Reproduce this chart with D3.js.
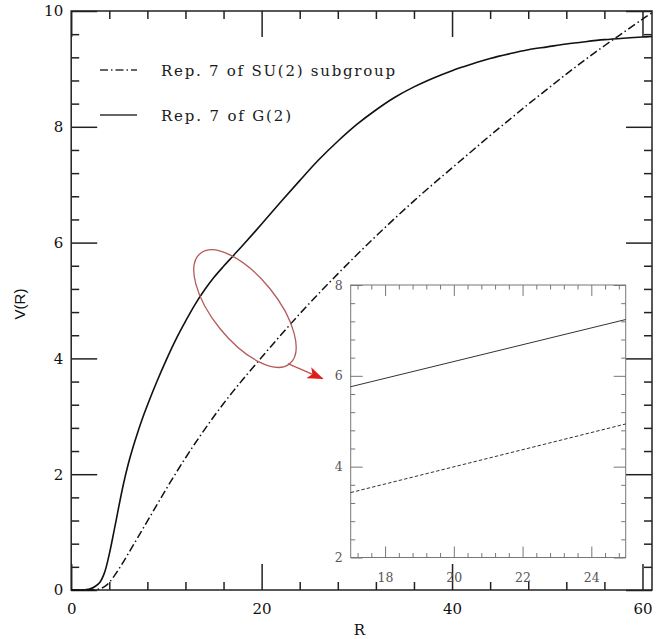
<!DOCTYPE html>
<html><head><meta charset="utf-8">
<script src="https://cdn.jsdelivr.net/npm/d3@7"></script>
<style>body{margin:0;background:#fff}svg{display:block}</style>
</head><body>
<svg id="c" width="669" height="639"></svg>
<script>
// ---- data ----
const suR = [0, 2, 2.5, 3, 3.5, 4, 5, 6, 7, 8, 9, 10, 11, 12, 13, 14, 15, 16, 17, 18, 20, 22, 24, 26, 28, 30, 32, 34, 36, 38, 40, 42, 44, 46, 48, 50, 52, 54, 56, 58, 60, 61];
const suV = [0, 0, 0.005, 0.02, 0.06, 0.13, 0.36, 0.63, 0.91, 1.19, 1.47, 1.75, 2.02, 2.28, 2.53, 2.77, 3.0, 3.22, 3.43, 3.63, 4.02, 4.4, 4.77, 5.12, 5.46, 5.79, 6.11, 6.42, 6.72, 7.01, 7.29, 7.57, 7.85, 8.12, 8.39, 8.65, 8.91, 9.16, 9.4, 9.63, 9.86, 9.97];
const g2R = [0, 1, 1.5, 2, 2.5, 3, 3.5, 4, 4.5, 5, 5.5, 6, 6.5, 7, 7.5, 8, 9, 10, 11, 12, 13, 14, 15, 16, 17, 18, 20, 22, 24, 26, 28, 30, 32, 34, 36, 38, 40, 42, 44, 46, 48, 50, 52, 54, 56, 58, 60, 61];
const g2V = [0, 0, 0.005, 0.02, 0.06, 0.13, 0.3, 0.62, 1.02, 1.44, 1.84, 2.18, 2.47, 2.73, 2.97, 3.19, 3.6, 3.98, 4.33, 4.64, 4.93, 5.18, 5.40, 5.59, 5.77, 5.95, 6.32, 6.7, 7.07, 7.43, 7.75, 8.04, 8.29, 8.51, 8.69, 8.84, 8.97, 9.08, 9.18, 9.26, 9.33, 9.38, 9.43, 9.47, 9.505, 9.53, 9.55, 9.56];

const insetR = [17, 25];
const insetSuV = [3.43, 4.94];
const insetG2V = [5.76, 7.24];

const xMajor = [0, 20, 40, 60];
const xMinor = [4, 8, 12, 16, 24, 28, 32, 36, 44, 48, 52, 56];
const yMajor = [0, 2, 4, 6, 8, 10];
const yMinor = [0.4, 0.8, 1.2, 1.6, 2.4, 2.8, 3.2, 3.6, 4.4, 4.8, 5.2, 5.6, 6.4, 6.8, 7.2, 7.6, 8.4, 8.8, 9.2, 9.6];
const ixMajor = [18, 20, 22, 24];
const ixMinor = [17.2, 17.6, 18.4, 18.8, 19.2, 19.6, 20.4, 20.8, 21.2, 21.6, 22.4, 22.8, 23.2, 23.6, 24.4, 24.8];
const iyMajor = [2, 4, 6, 8];
const iyMinor = [2.4, 2.8, 3.2, 3.6, 4.4, 4.8, 5.2, 5.6, 6.4, 6.8, 7.2, 7.6];

const legendLabels = ["Rep. 7 of SU(2) subgroup", "Rep. 7 of G(2)"];
const xTitle = "R", yTitle = "V(R)";
// annotation: ellipse centre and arrow ends in data units
const ellipseC = [18.25, 4.86];
const arrowFrom = [22.76, 3.91], arrowTo = [26.4, 3.65];

// ---- layout ----
const svg = d3.select("#c");
const L = 71.2, R = 652, T = 11, B = 590;
const x = d3.scaleLinear().domain([0, 61]).range([L, R]);
const y = d3.scaleLinear().domain([0, 10]).range([B, T]);
const serif = "'DejaVu Serif', 'Liberation Serif', serif";

function ticks(g, axis, vals, size, color, w) {
  g.call(axis.tickValues(vals).tickSize(-size).tickFormat(""));
  g.select(".domain").remove();
  g.selectAll(".tick line").attr("stroke", color).attr("stroke-width", w);
}
function frameAxes(xs, ys, l, r, t, b, major, minor, xMaj, xMin, yMaj, yMin, color, w) {
  const grp = svg.append("g");
  [[d3.axisBottom, b], [d3.axisTop, t]].forEach(([f, pos]) => {
    ticks(grp.append("g").attr("transform", `translate(0,${pos})`), f(xs), xMaj, major[0], color, w);
    ticks(grp.append("g").attr("transform", `translate(0,${pos})`), f(xs), xMin, minor, color, w);
  });
  [[d3.axisLeft, l], [d3.axisRight, r]].forEach(([f, pos]) => {
    ticks(grp.append("g").attr("transform", `translate(${pos},0)`), f(ys), yMaj, major[1], color, w);
    ticks(grp.append("g").attr("transform", `translate(${pos},0)`), f(ys), yMin, minor, color, w);
  });
  grp.append("rect").attr("x", l).attr("y", t).attr("width", r - l).attr("height", b - t)
    .attr("fill", "none").attr("stroke", color).attr("stroke-width", w);
}

// main frame & ticks
frameAxes(x, y, L, R, T, B, [26, 26], 8, xMajor, xMinor, yMajor, yMinor, "#222", 1.5);

// main tick labels
const bx = svg.append("g").attr("transform", `translate(0,${B})`)
  .call(d3.axisBottom(x).tickValues(xMajor).tickSize(0).tickPadding(13).tickFormat(d3.format("d")));
bx.select(".domain").remove();
bx.selectAll("text").attr("font-family", serif).attr("font-size", 15).attr("fill", "#111");
const ly = svg.append("g").attr("transform", `translate(${L},0)`)
  .call(d3.axisLeft(y).tickValues(yMajor).tickSize(0).tickPadding(8).tickFormat(d3.format("d")));
ly.select(".domain").remove();
ly.selectAll("text").attr("font-family", serif).attr("font-size", 15).attr("fill", "#111");

// titles
svg.append("text").attr("x", 359.5).attr("y", 635).attr("text-anchor", "middle")
  .attr("font-family", serif).attr("font-size", 15).attr("fill", "#111").text(xTitle);
svg.append("text").attr("transform", "translate(25,304) rotate(-90)").attr("text-anchor", "middle")
  .attr("font-family", "'Liberation Sans', Arial, sans-serif").attr("font-size", 15).attr("fill", "#111").text(yTitle);

// curves
const line = d3.line().x(d => x(d[0])).y(d => y(d[1])).curve(d3.curveCatmullRom.alpha(0.5));
svg.append("path").datum(suR.map((r, i) => [r, suV[i]])).attr("d", line)
  .attr("fill", "none").attr("stroke", "#111").attr("stroke-width", 1.5).attr("stroke-dasharray", "8,3,1.5,3");
svg.append("path").datum(g2R.map((r, i) => [r, g2V[i]])).attr("d", line)
  .attr("fill", "none").attr("stroke", "#111").attr("stroke-width", 1.6);

// legend
const legY = [70, 115];
legendLabels.forEach((t, i) => {
  svg.append("line").attr("x1", 100).attr("x2", 137).attr("y1", legY[i]).attr("y2", legY[i])
    .attr("stroke", "#333").attr("stroke-width", 1.5).attr("stroke-dasharray", i === 0 ? "8,3,1.5,3" : null);
  svg.append("text").attr("x", 161).attr("y", legY[i] + 6).attr("font-family", serif).attr("font-size", 15)
    .attr("fill", "#1a1a1a").attr("textLength", i === 0 ? 234 : 130).attr("lengthAdjust", "spacing").text(t);
});

// inset
const iL = 350.7, iR = 625.7, iT = 285, iB = 557.5;
const xi = d3.scaleLinear().domain([17, 25]).range([iL, iR]);
const yi = d3.scaleLinear().domain([2, 8]).range([iB, iT]);
svg.append("rect").attr("x", iL).attr("y", iT).attr("width", iR - iL).attr("height", iB - iT).attr("fill", "#fff");
frameAxes(xi, yi, iL, iR, iT, iB, [11, 12], 4.5, ixMajor, ixMinor, iyMajor, iyMinor, "#777", 1);
const ibx = svg.append("g").attr("transform", `translate(0,${iB})`)
  .call(d3.axisBottom(xi).tickValues(ixMajor).tickSize(0).tickPadding(15.5).tickFormat(d3.format("d")));
ibx.select(".domain").remove();
ibx.selectAll("text").attr("font-family", serif).attr("font-size", 12.5).attr("fill", "#555");
const ily = svg.append("g").attr("transform", `translate(${iL},0)`)
  .call(d3.axisLeft(yi).tickValues(iyMajor).tickSize(0).tickPadding(8).tickFormat(d3.format("d")));
ily.select(".domain").remove();
ily.selectAll("text").attr("font-family", serif).attr("font-size", 12.5).attr("fill", "#555");
const iline = d3.line().x(d => xi(d[0])).y(d => yi(d[1]));
svg.append("path").datum(insetR.map((r, i) => [r, insetG2V[i]])).attr("d", iline)
  .attr("fill", "none").attr("stroke", "#333").attr("stroke-width", 1);
svg.append("path").datum(insetR.map((r, i) => [r, insetSuV[i]])).attr("d", iline)
  .attr("fill", "none").attr("stroke", "#333").attr("stroke-width", 1).attr("stroke-dasharray", "3.5,2");

// annotation: ellipse + arrow
const ex = x(ellipseC[0]), ey = y(ellipseC[1]);
svg.append("ellipse").attr("cx", ex).attr("cy", ey).attr("rx", 71).attr("ry", 32)
  .attr("transform", `rotate(51 ${ex} ${ey})`).attr("fill", "none").attr("stroke", "#b55a5a").attr("stroke-width", 1.3);
const defs = svg.append("defs");
defs.append("marker").attr("id", "ah").attr("viewBox", "0 0 16 12").attr("refX", 15).attr("refY", 6)
  .attr("markerWidth", 16).attr("markerHeight", 12).attr("markerUnits", "userSpaceOnUse").attr("orient", "auto")
  .append("path").attr("d", "M0,0 L16,6 L0,12 L4,6 Z").attr("fill", "#e01b1b");
svg.append("line").attr("x1", x(arrowFrom[0])).attr("y1", y(arrowFrom[1]))
  .attr("x2", x(arrowTo[0])).attr("y2", y(arrowTo[1]))
  .attr("stroke", "#c0504d").attr("stroke-width", 1.3).attr("marker-end", "url(#ah)");
</script>
</body></html>
